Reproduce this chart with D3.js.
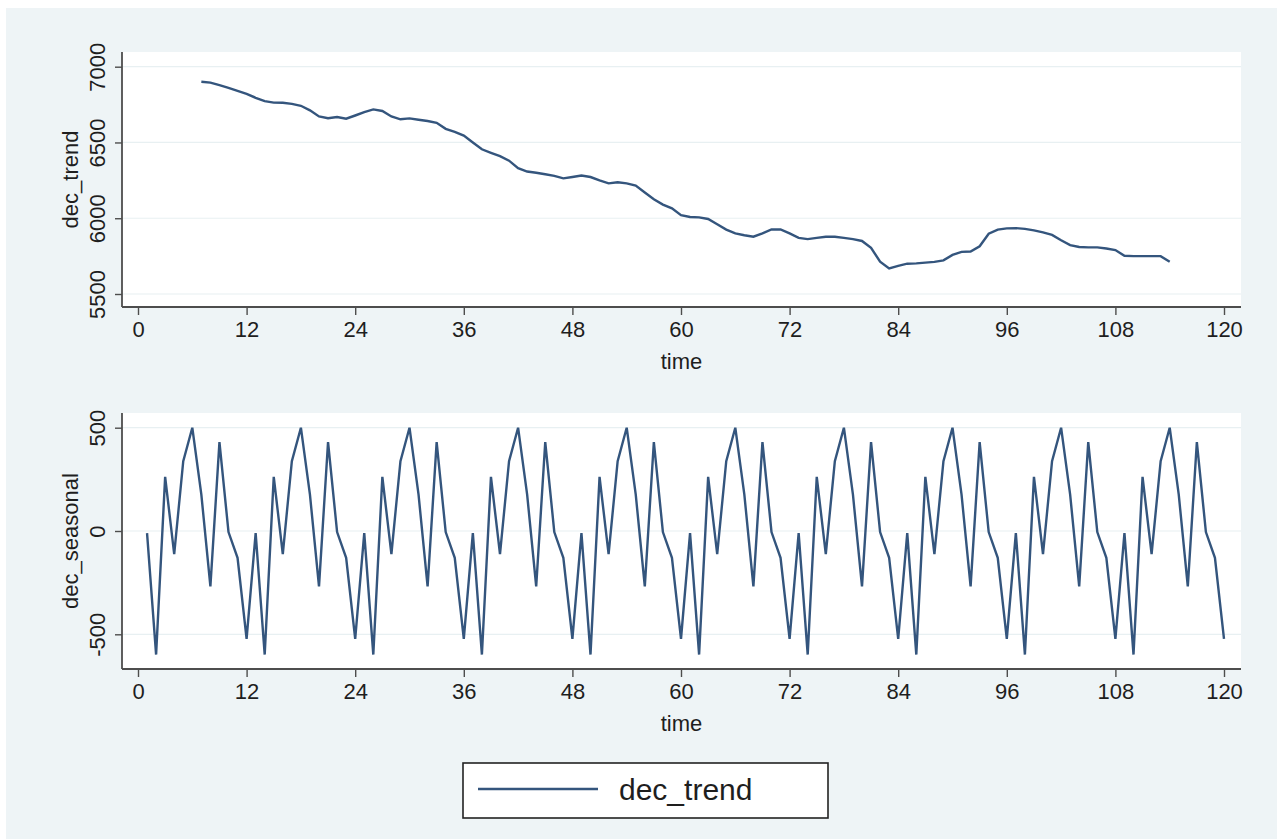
<!DOCTYPE html>
<html>
<head>
<meta charset="utf-8">
<script src="https://d3js.org/d3.v7.min.js"></script>
<style>
  html, body { margin: 0; padding: 0; background: #ffffff; }
  svg { display: block; font-family: "Liberation Sans", Arial, Helvetica, sans-serif; }
</style>
</head>
<body>
<div id="my_dataviz"></div>
<script>
// trend component, time 7..114
var trendStart = 7;
var trendValues = [
  6901, 6895, 6878, 6860, 6840, 6820, 6795, 6773, 6763, 6762,
  6755, 6742, 6712, 6672, 6660, 6668, 6657, 6678, 6700, 6718,
  6708, 6672, 6653, 6659, 6650, 6642, 6630, 6590, 6570, 6545,
  6500, 6455, 6432, 6410, 6380, 6330, 6308, 6300, 6290, 6280,
  6263, 6272, 6282, 6272, 6250, 6230, 6237, 6230, 6215, 6170,
  6125, 6090, 6065, 6020, 6008, 6006, 5995, 5960, 5925, 5900,
  5888, 5878, 5900, 5926, 5926, 5900, 5870, 5862, 5870, 5878,
  5878, 5870, 5862, 5850, 5805, 5713, 5669, 5686, 5700, 5702,
  5707, 5712, 5722, 5758, 5778, 5780, 5815, 5898, 5925, 5933,
  5935, 5930, 5920, 5907, 5890, 5855, 5823, 5810, 5808, 5808,
  5800, 5790, 5752, 5750, 5750, 5750, 5750, 5713
];

// seasonal component, time 1..120
var seasonalValues = [
  -10, -598, 262, -112, 338, 500, 176, -268, 430, -5, -130, -522,
  -10, -598, 262, -112, 338, 500, 176, -268, 430, -5, -130, -522,
  -10, -598, 262, -112, 338, 500, 176, -268, 430, -5, -130, -522,
  -10, -598, 262, -112, 338, 500, 176, -268, 430, -5, -130, -522,
  -10, -598, 262, -112, 338, 500, 176, -268, 430, -5, -130, -522,
  -10, -598, 262, -112, 338, 500, 176, -268, 430, -5, -130, -522,
  -10, -598, 262, -112, 338, 500, 176, -268, 430, -5, -130, -522,
  -10, -598, 262, -112, 338, 500, 176, -268, 430, -5, -130, -522,
  -10, -598, 262, -112, 338, 500, 176, -268, 430, -5, -130, -522,
  -10, -598, 262, -112, 338, 500, 176, -268, 430, -5, -130, -522
];

var xTicks = [0, 12, 24, 36, 48, 60, 72, 84, 96, 108, 120];
var trendTicks = [5500, 6000, 6500, 7000];
var seasonalTicks = [-500, 0, 500];
var legendLabels = ["dec_trend"];

var W = 1277, H = 839;
var lineColor = "#34557d";
var axisColor = "#4d4d4d";
var textColor = "#1e1e1e";
var plain = function (d) { return String(d); };

var svg = d3.select("#my_dataviz")
  .append("svg")
    .attr("width", W)
    .attr("height", H);

// outer graph region
svg.append("rect")
  .attr("x", 6).attr("y", 8)
  .attr("width", W - 6).attr("height", H - 8)
  .style("fill", "#eef4f6");

var x = d3.scaleLinear()
  .domain([0, 120])
  .range([138, 1224]);

function drawPanel(opts) {
  var g = svg.append("g");
  var left = 122, right = 1241;

  g.append("rect")
    .attr("x", left).attr("y", opts.top)
    .attr("width", right - left).attr("height", opts.bottom - opts.top)
    .style("fill", "#ffffff");

  // grid
  g.selectAll("line.grid")
    .data(opts.ticks)
    .enter()
    .append("line")
      .attr("x1", left).attr("x2", right)
      .attr("y1", function (d) { return opts.y(d); })
      .attr("y2", function (d) { return opts.y(d); })
      .style("stroke", "#e8f0f2")
      .style("stroke-width", 1.2);

  // line
  var line = d3.line()
    .x(function (d) { return x(d.t); })
    .y(function (d) { return opts.y(d.v); });

  g.append("path")
    .datum(opts.data)
    .attr("d", line)
    .style("fill", "none")
    .style("stroke", lineColor)
    .style("stroke-width", 2.4)
    .style("stroke-linejoin", "miter");

  // x axis
  var xAxis = g.append("g")
    .attr("transform", "translate(0," + opts.bottom + ")")
    .call(d3.axisBottom(x).tickValues(xTicks).tickFormat(plain).tickSize(8).tickSizeOuter(0));
  xAxis.select(".domain").remove();
  xAxis.append("line")
    .attr("x1", left).attr("x2", right)
    .attr("y1", 0).attr("y2", 0)
    .style("stroke", axisColor).style("stroke-width", 1.8);
  xAxis.selectAll(".tick line").style("stroke", axisColor).style("stroke-width", 1.4);
  xAxis.selectAll(".tick text")
    .attr("y", 30).attr("dy", null)
    .style("font-size", "22px")
    .style("fill", textColor);

  // y axis
  var yAxis = g.append("g")
    .attr("transform", "translate(" + left + ",0)")
    .call(d3.axisLeft(opts.y).tickValues(opts.ticks).tickFormat(plain).tickSize(7).tickSizeOuter(0));
  yAxis.select(".domain").remove();
  yAxis.append("line")
    .attr("x1", 0).attr("x2", 0)
    .attr("y1", opts.top).attr("y2", opts.bottom)
    .style("stroke", axisColor).style("stroke-width", 1.8);
  yAxis.selectAll(".tick line").style("stroke", axisColor).style("stroke-width", 1.4);
  yAxis.selectAll(".tick text")
    .attr("x", null).attr("dy", null)
    .attr("transform", "translate(-17,0) rotate(-90)")
    .attr("text-anchor", "middle")
    .style("font-size", "22px")
    .style("fill", textColor);

  // titles
  g.append("text")
    .attr("x", (left + right) / 2)
    .attr("y", opts.bottom + 62)
    .attr("text-anchor", "middle")
    .style("font-size", "22px")
    .style("fill", textColor)
    .text("time");

  g.append("text")
    .attr("transform", "translate(78," + ((opts.top + opts.bottom) / 2) + ") rotate(-90)")
    .attr("text-anchor", "middle")
    .style("font-size", "22px")
    .style("fill", textColor)
    .text(opts.title);
}

var trendData = trendValues.map(function (v, i) { return {t: trendStart + i, v: v}; });
var seasonalData = seasonalValues.map(function (v, i) { return {t: 1 + i, v: v}; });

drawPanel({
  top: 52, bottom: 307,
  y: d3.scaleLinear().domain([5500, 7000]).range([294, 66.7]),
  ticks: trendTicks,
  data: trendData,
  title: "dec_trend"
});

drawPanel({
  top: 413, bottom: 669,
  y: d3.scaleLinear().domain([-500, 500]).range([634.3, 427.7]),
  ticks: seasonalTicks,
  data: seasonalData,
  title: "dec_seasonal"
});

// legend
var legend = svg.append("g");
legend.append("rect")
  .attr("x", 463).attr("y", 763)
  .attr("width", 365).attr("height", 55)
  .style("fill", "#ffffff")
  .style("stroke", "#222")
  .style("stroke-width", 1.6);
legend.append("line")
  .attr("x1", 478).attr("x2", 598)
  .attr("y1", 789).attr("y2", 789)
  .style("stroke", lineColor)
  .style("stroke-width", 2.4);
legend.selectAll("text.lab")
  .data(legendLabels)
  .enter()
  .append("text")
    .attr("x", 619)
    .attr("y", 800)
    .style("font-size", "30px")
    .style("fill", textColor)
    .text(function (d) { return d; });
</script>
</body>
</html>
